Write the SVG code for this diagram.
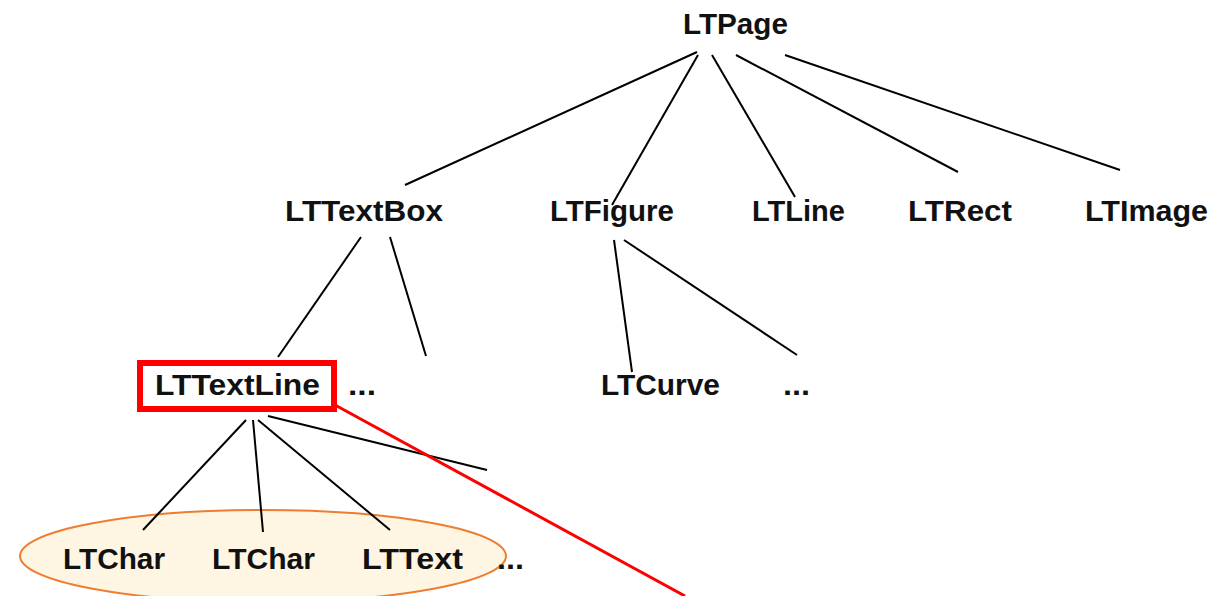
<svg xmlns="http://www.w3.org/2000/svg" width="1214" height="596" viewBox="0 0 1214 596">
<style>
text{font-family:"Liberation Sans",Arial,sans-serif;font-weight:bold;font-size:29px;fill:#111}
.c{stroke:#000;stroke-width:2;fill:none}
</style>
<rect width="1214" height="596" fill="#fff"/>
<g id="group-ellipse">
<ellipse cx="263" cy="556" rx="243" ry="46" fill="#FFF5E3" stroke="#ED7D31" stroke-width="2"/>
</g>
<g id="connectors">
<line class="c" x1="697" y1="52" x2="405" y2="185"/>
<line class="c" x1="698" y1="55" x2="612" y2="205"/>
<line class="c" x1="712" y1="55" x2="795" y2="197"/>
<line class="c" x1="736" y1="55" x2="958" y2="172"/>
<line class="c" x1="785" y1="55" x2="1120" y2="170"/>
<line class="c" x1="361" y1="237" x2="278" y2="357"/>
<line class="c" x1="390" y1="237" x2="426" y2="356"/>
<line class="c" x1="614" y1="240" x2="632" y2="372"/>
<line class="c" x1="624" y1="240" x2="797" y2="355"/>
<line class="c" x1="246" y1="420" x2="143" y2="530"/>
<line class="c" x1="253" y1="420" x2="263" y2="532"/>
<line class="c" x1="258" y1="420" x2="390" y2="530"/>
<line class="c" x1="268" y1="416" x2="487" y2="470"/>
<line x1="335" y1="405" x2="685" y2="596" stroke="#f00" stroke-width="3"/>
</g>
<g id="LTPage"><text x="683" y="34" textLength="105" lengthAdjust="spacingAndGlyphs">LTPage</text></g>
<g id="LTTextBox"><text x="285" y="221" textLength="158" lengthAdjust="spacingAndGlyphs">LTTextBox</text></g>
<g id="LTFigure"><text x="550" y="221" textLength="124" lengthAdjust="spacingAndGlyphs">LTFigure</text></g>
<g id="LTLine"><text x="752" y="221" textLength="93" lengthAdjust="spacingAndGlyphs">LTLine</text></g>
<g id="LTRect"><text x="908" y="221" textLength="104" lengthAdjust="spacingAndGlyphs">LTRect</text></g>
<g id="LTImage"><text x="1085" y="221" textLength="123" lengthAdjust="spacingAndGlyphs">LTImage</text></g>
<g id="LTTextLine">
<rect x="140" y="363" width="194" height="46" fill="none" stroke="#f00" stroke-width="6"/>
<text x="155" y="395" textLength="165" lengthAdjust="spacingAndGlyphs">LTTextLine</text></g>
<g id="dots1"><text x="348" y="395" textLength="28" lengthAdjust="spacingAndGlyphs">...</text></g>
<g id="LTCurve"><text x="601" y="395" textLength="119" lengthAdjust="spacingAndGlyphs">LTCurve</text></g>
<g id="dots2"><text x="783" y="395" textLength="27" lengthAdjust="spacingAndGlyphs">...</text></g>
<g id="LTChar1"><text x="63" y="569" textLength="102" lengthAdjust="spacingAndGlyphs">LTChar</text></g>
<g id="LTChar2"><text x="212" y="569" textLength="103" lengthAdjust="spacingAndGlyphs">LTChar</text></g>
<g id="LTText"><text x="362" y="569" textLength="101" lengthAdjust="spacingAndGlyphs">LTText</text></g>
<g id="dots3"><text x="497" y="569" textLength="27" lengthAdjust="spacingAndGlyphs">...</text></g>
</svg>
